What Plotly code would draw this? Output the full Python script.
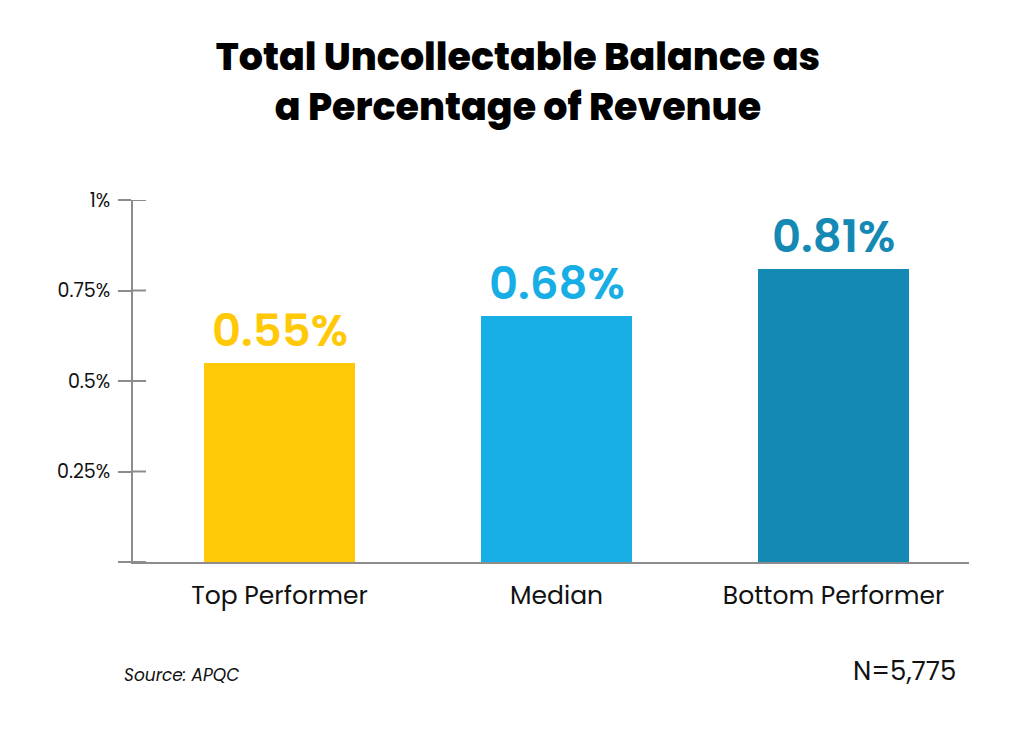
import plotly.graph_objects as go

categories = ["Top Performer", "Median", "Bottom Performer"]
values = [0.55, 0.68, 0.81]
value_labels = ["0.55%", "0.68%", "0.81%"]
colors = ["#FFC907", "#17AEE5", "#1489B4"]
tick_vals = [0, 0.25, 0.5, 0.75, 1]
tick_text = ["", "0.25%", "0.5%", "0.75%", "1%"]

AXIS = "#8c8c8c"
FONT = "Poppins, Inter, 'DejaVu Sans', sans-serif"
PLOT_W = 836

fig = go.Figure()
fig.add_trace(go.Bar(
    x=categories, y=values, marker=dict(color=colors, line=dict(width=0)),
    width=0.545, hoverinfo="skip", showlegend=False,
))

for c, v, t, col in zip(categories, values, value_labels, colors):
    fig.add_annotation(x=c, y=v, text=t, showarrow=False, yanchor="bottom",
                       yshift=-1, font=dict(family=FONT, size=45, color=col, weight=600))

# inner half of the y-axis tick marks (ticks cross the axis line)
for tv in tick_vals:
    fig.add_shape(type="line", xref="paper", yref="y", x0=0, x1=13 / PLOT_W, y0=tv, y1=tv,
                  line=dict(color=AXIS, width=2), layer="above")

fig.add_annotation(xref="paper", yref="paper", x=-0.013, y=-0.312, xanchor="left", yanchor="middle",
                   text="<i>Source: APQC</i>", showarrow=False,
                   font=dict(family=FONT, size=17, color="#111111"))
fig.add_annotation(xref="paper", yref="paper", x=0.987, y=-0.301, xanchor="right", yanchor="middle",
                   text="N=5,775", showarrow=False,
                   font=dict(family=FONT, size=26, color="#111111"))

fig.update_layout(
    width=1024, height=735,
    margin=dict(l=125, r=1024 - 125 - PLOT_W, t=192, b=735 - 192 - 362),
    paper_bgcolor="white", plot_bgcolor="white",
    title=dict(text="Total Uncollectable Balance as<br>a Percentage of Revenue",
               x=0.498, xanchor="center", y=0.915, yanchor="top",
               font=dict(family=FONT, size=38, color="#000000", weight=800)),
    xaxis=dict(range=[-0.529, 2.489], showline=True, linecolor=AXIS, linewidth=2,
               ticks="", showgrid=False, zeroline=False,
               tickfont=dict(family=FONT, size=25, color="#111111"),
               ticklabelstandoff=10),
    yaxis=dict(range=[0, 1], tickvals=tick_vals, ticktext=tick_text,
               showline=True, linecolor=AXIS, linewidth=2,
               ticks="outside", ticklen=13, tickcolor=AXIS, tickwidth=2,
               showgrid=False, zeroline=False,
               tickfont=dict(family=FONT, size=19, color="#111111"),
               ticklabelstandoff=4),
    bargap=0,
)

fig.write_html("out.html")
